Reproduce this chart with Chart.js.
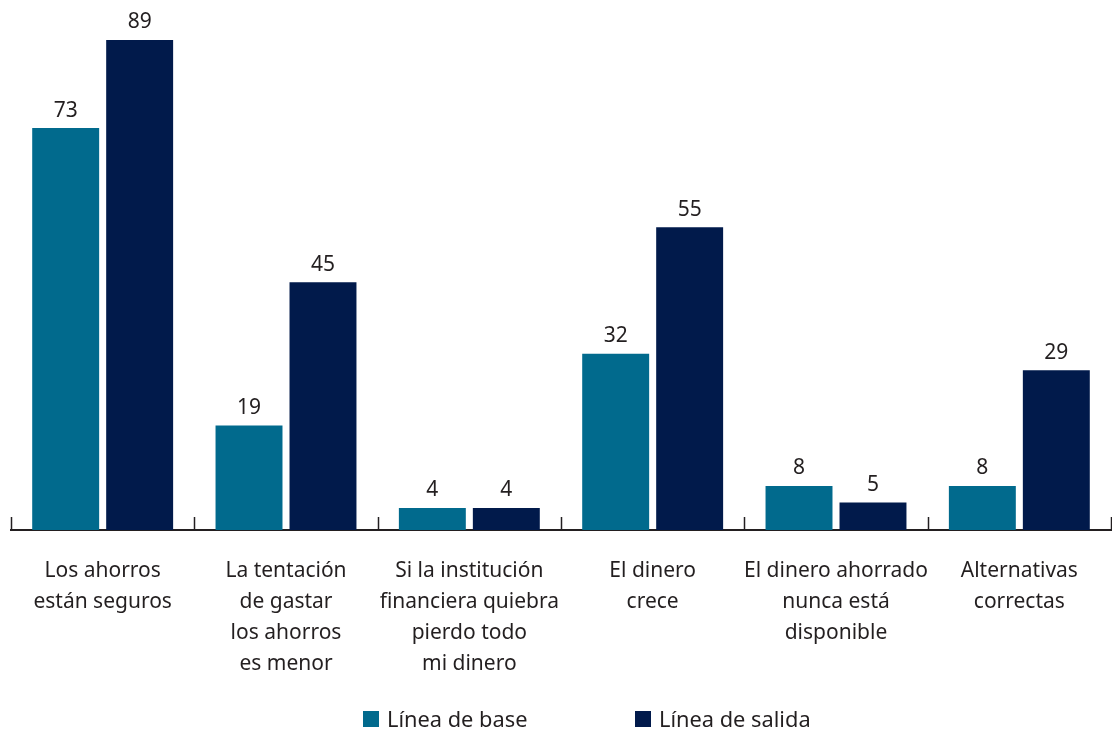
<!DOCTYPE html>
<html>
<head>
<meta charset="utf-8">
<script src="https://cdn.jsdelivr.net/npm/chart.js@4.4.1/dist/chart.umd.min.js"></script>
<style>
  html, body { margin: 0; padding: 0; background: #fff; }
  #wrap { position: relative; width: 1112px; height: 733px; }
  #legend { position: absolute; top: 704px; left: 0; width: 1112px; font-family: 'Noto Sans', sans-serif; font-size: 21.8px; color: #231f20; }
  .item { position: absolute; top: 0; display: flex; align-items: center; }
  .sw { width: 16px; height: 16px; margin-right: 8px; }
</style>
</head>
<body>
<div id="wrap">
  <canvas id="myChart" width="1112" height="733"></canvas>
  <div id="legend"></div>
</div>
<script>
const categories = [
  ['Los ahorros', 'están seguros'],
  ['La tentación', 'de gastar', 'los ahorros', 'es menor'],
  ['Si la institución', 'financiera quiebra', 'pierdo todo', 'mi dinero'],
  ['El dinero', 'crece'],
  ['El dinero ahorrado', 'nunca está', 'disponible'],
  ['Alternativas', 'correctas']
];
const seriesNames = ['Línea de base', 'Línea de salida'];
const baseValues = [73, 19, 4, 32, 8, 8];
const exitValues = [89, 45, 4, 55, 5, 29];
const colors = ['#016a8d', '#011a4b'];
const textColor = '#231f20';
const fontFamily = "'Noto Sans', sans-serif";

const ctx = document.getElementById('myChart').getContext('2d');

const valueLabels = {
  id: 'valueLabels',
  afterDatasetsDraw(chart) {
    const c = chart.ctx;
    c.save();
    c.font = '21px ' + fontFamily;
    c.fillStyle = textColor;
    c.textAlign = 'center';
    c.textBaseline = 'bottom';
    chart.data.datasets.forEach((ds, i) => {
      chart.getDatasetMeta(i).data.forEach((bar, idx) => {
        c.fillText(ds.data[idx], bar.x, bar.y - 7);
      });
    });
    c.restore();
  }
};

// little upward ticks between categories
const catTicks = {
  id: 'catTicks',
  afterDraw(chart) {
    const x = chart.scales.x;
    const c = chart.ctx;
    const n = chart.data.labels.length;
    const step = x.width / n;
    c.save();
    c.strokeStyle = textColor;
    c.lineWidth = 1.5;
    for (let i = 0; i <= n; i++) {
      const px = Math.round(x.left + i * step) + 0.5;
      c.beginPath();
      c.moveTo(px, x.top);
      c.lineTo(px, x.top - 13);
      c.stroke();
    }
    c.restore();
  }
};

const chart = new Chart(ctx, {
  type: 'bar',
  data: {
    labels: categories,
    datasets: [
      { label: seriesNames[0], data: baseValues, backgroundColor: colors[0] },
      { label: seriesNames[1], data: exitValues, backgroundColor: colors[1] }
    ]
  },
  options: {
    responsive: false,
    animation: false,
    categoryPercentage: 0.807,
    barPercentage: 0.905,
    layout: { padding: { top: 40, left: 11, right: 1, bottom: 27 } },
    plugins: { legend: { display: false }, tooltip: { enabled: false } },
    scales: {
      x: {
        grid: { display: false, drawTicks: false, tickLength: 0 },
        border: { display: true, color: textColor, width: 2 },
        ticks: {
          color: textColor,
          font: { family: fontFamily, size: 21, lineHeight: 1.476 },
          padding: 26,
          autoSkip: false,
          maxRotation: 0
        }
      },
      y: { display: false, min: 0, max: 89 }
    }
  },
  plugins: [valueLabels, catTicks]
});

const legend = document.getElementById('legend');
const legendX = [363, 635];
seriesNames.forEach((name, i) => {
  const item = document.createElement('div');
  item.className = 'item';
  item.style.left = legendX[i] + 'px';
  item.innerHTML = '<span class="sw" style="background:' + colors[i] + '"></span><span>' + name + '</span>';
  legend.appendChild(item);
});
</script>
</body>
</html>
